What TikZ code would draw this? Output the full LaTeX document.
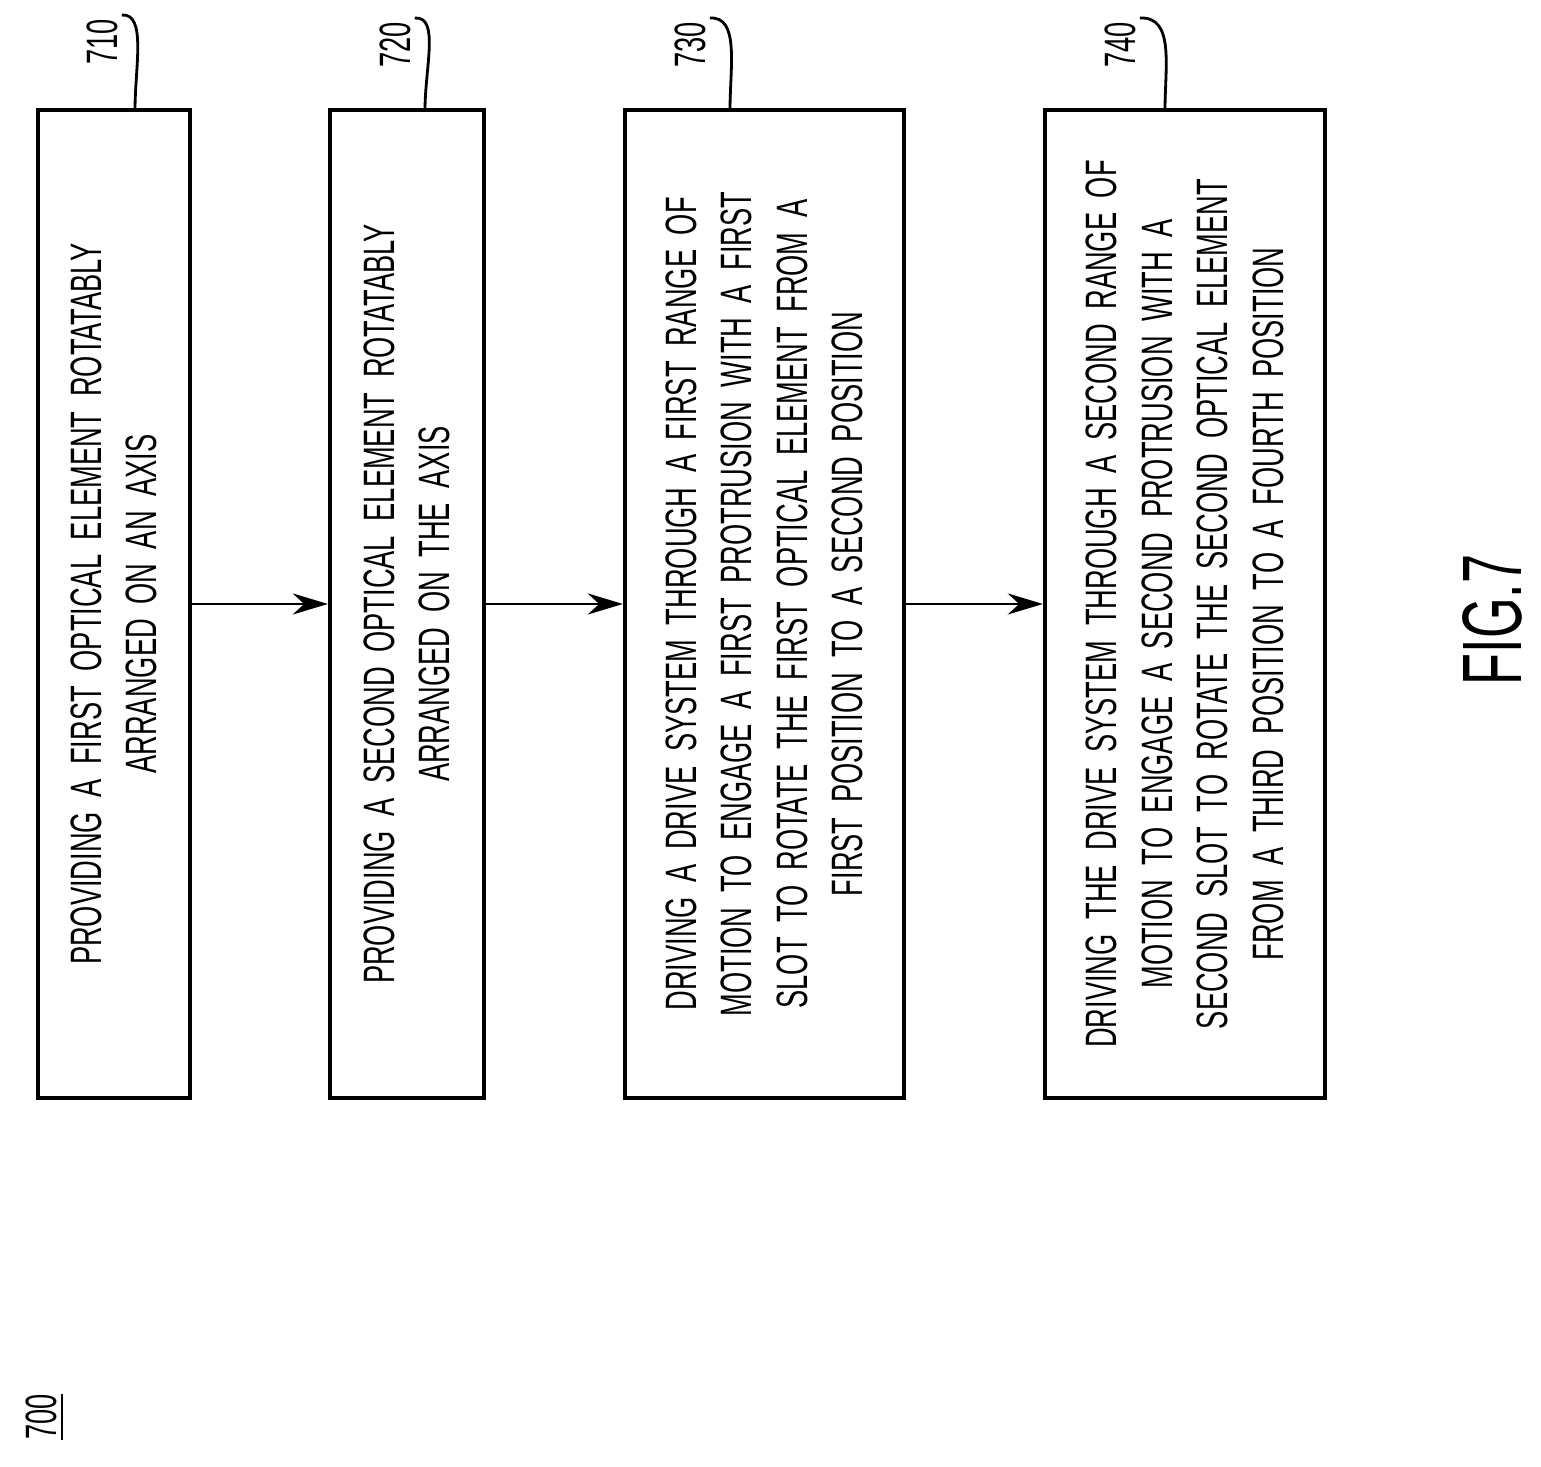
\documentclass[tikz,border=0pt]{standalone}
\usepackage{fontspec}
\setmainfont{Liberation Sans}[FakeStretch=0.62]
\usetikzlibrary{arrows.meta}
\usetikzlibrary{calc}

\tikzset{
  stepbox/.style={draw, line width=1.2pt, rotate=90, minimum width=9.88cm, align=center,
               font=\fontsize{12.5}{15.8}\selectfont, inner sep=2pt},
  ref/.style={rotate=90, font=\fontsize{12.5}{14}\selectfont, inner sep=1pt},
  flow/.style={-{Stealth[length=10pt,width=6pt]}, line width=0.8pt},
  lead/.style={line width=0.8pt}
}

\begin{document}
\begin{tikzpicture}
                \useasboundingbox (0,0) rectangle (15.41,14.67);
                \node[stepbox, minimum height=1.52cm, text width=9cm] (s710) at (1.14,8.63) {PROVIDING A FIRST OPTICAL ELEMENT ROTATABLY\\ARRANGED ON AN AXIS};
                \node[stepbox, minimum height=1.54cm, text width=9cm] (s720) at (4.07,8.63) {PROVIDING A SECOND OPTICAL ELEMENT ROTATABLY\\ARRANGED ON THE AXIS};
                \node[stepbox, minimum height=2.79cm, text width=9.3cm] (s730) at (7.645,8.63) {DRIVING A DRIVE SYSTEM THROUGH A FIRST RANGE OF\\MOTION TO ENGAGE A FIRST PROTRUSION WITH A FIRST\\SLOT TO ROTATE THE FIRST OPTICAL ELEMENT FROM A\\FIRST POSITION TO A SECOND POSITION};
                \node[stepbox, minimum height=2.80cm, text width=9.3cm] (s740) at (11.85,8.63) {DRIVING THE DRIVE SYSTEM THROUGH A SECOND RANGE OF\\MOTION TO ENGAGE A SECOND PROTRUSION WITH A\\SECOND SLOT TO ROTATE THE SECOND OPTICAL ELEMENT\\FROM A THIRD POSITION TO A FOURTH POSITION};

                \draw[flow] (s710) -- (s720);
                \draw[flow] (s720) -- (s730);
                \draw[flow] (s730) -- (s740);

                % reference numerals
                \node[ref] (r710) at (1.02,14.25) {710};
                \node[ref] (r720) at (3.95,14.22) {720};
                \node[ref] (r730) at (6.9,14.22) {730};
                \node[ref] (r740) at (11.2,14.22) {740};
                \coordinate (t710) at (1.35,13.57);
                \coordinate (t720) at (4.25,13.57);
                \coordinate (t730) at (7.3,13.57);
                \coordinate (t740) at (11.65,13.57);
                \draw[lead] (r710.south east) .. controls +(0.25,0.02) and (1.35,14.0) .. (t710);
                \draw[lead] (r720.south east) .. controls +(0.25,0.02) and (4.25,14.0) .. (t720);
                \draw[lead] (r730.south east) .. controls +(0.3,0.02) and (7.3,14.0) .. (t730);
                \draw[lead] (r740.south east) .. controls +(0.35,0.02) and (11.65,14.0) .. (t740);

                \node[rotate=90, font=\fontsize{24}{28}\selectfont] (fig) at (14.92,8.47) {FIG.7};
                \node[ref] (r700) at (0.45,0.5) {\underline{700}};
            \end{tikzpicture}
\end{document}
